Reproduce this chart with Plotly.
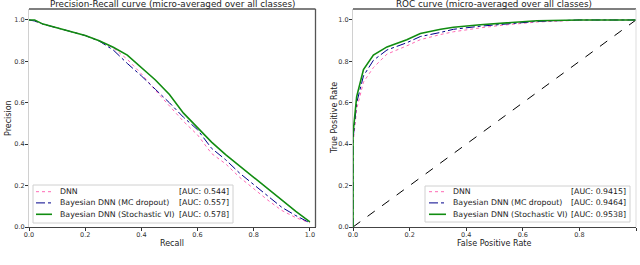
import plotly.graph_objects as go

W, H = 640, 265

# ---------------- data ----------------
series_names = ["DNN", "Bayesian DNN (MC dropout)", "Bayesian DNN (Stochastic VI)"]
pr_auc_labels = ["[AUC: 0.544]", "[AUC: 0.557]", "[AUC: 0.578]"]
roc_auc_labels = ["[AUC: 0.9415]", "[AUC: 0.9464]", "[AUC: 0.9538]"]

pr_recall = [0.0, 0.02, 0.05, 0.1, 0.15, 0.2, 0.25, 0.3, 0.35, 0.4, 0.45, 0.5,
             0.55, 0.6, 0.65, 0.7, 0.75, 0.8, 0.85, 0.9, 0.95, 1.0]
pr_dnn = [1.0, 0.995, 0.98, 0.962, 0.945, 0.925, 0.90, 0.865, 0.81, 0.74, 0.66, 0.585,
          0.51, 0.445, 0.355, 0.305, 0.24, 0.185, 0.13, 0.08, 0.045, 0.02]
pr_mc = [1.0, 0.995, 0.98, 0.962, 0.945, 0.925, 0.898, 0.855, 0.79, 0.73, 0.665, 0.60,
         0.53, 0.47, 0.38, 0.325, 0.26, 0.205, 0.15, 0.095, 0.055, 0.02]
pr_vi = [1.0, 1.0, 0.98, 0.962, 0.945, 0.925, 0.90, 0.868, 0.83, 0.77, 0.71, 0.64,
         0.55, 0.48, 0.41, 0.35, 0.295, 0.237, 0.185, 0.128, 0.075, 0.025]

roc_fpr = [0.0, 0.0, 0.013, 0.037, 0.072, 0.12, 0.19, 0.238, 0.31, 0.355, 0.45,
           0.53, 0.65, 0.8, 1.0]
roc_dnn = [0.0, 0.40, 0.57, 0.70, 0.77, 0.835, 0.875, 0.905, 0.93, 0.943, 0.962,
           0.975, 0.99, 0.999, 1.0]
roc_mc = [0.0, 0.42, 0.60, 0.73, 0.805, 0.855, 0.89, 0.92, 0.94, 0.955, 0.97,
          0.98, 0.993, 1.0, 1.0]
roc_vi = [0.0, 0.45, 0.63, 0.76, 0.83, 0.87, 0.905, 0.935, 0.955, 0.965, 0.977,
          0.985, 0.996, 1.0, 1.0]
chance = [0.0, 1.0]

tick_vals = [0.0, 0.2, 0.4, 0.6, 0.8, 1.0]
tick_text = ["0.0", "0.2", "0.4", "0.6", "0.8", "1.0"]

colors = ["#ff69b4", "#00008b", "#118c11"]
dashes = ["dot", "dashdot", "solid"]
widths = [1.0, 1.0, 1.6]

# ---------------- figure ----------------
fig = go.Figure()

for ys, c, d, w, n in zip([pr_dnn, pr_mc, pr_vi], colors, dashes, widths, series_names):
    fig.add_trace(go.Scatter(x=pr_recall, y=ys, mode="lines", name=n,
                             line=dict(color=c, dash=d, width=w),
                             xaxis="x", yaxis="y", showlegend=False))

fig.add_trace(go.Scatter(x=chance, y=chance, mode="lines",
                         line=dict(color="black", dash="dash", width=1),
                         xaxis="x2", yaxis="y2", showlegend=False))
for ys, c, d, w, n in zip([roc_dnn, roc_mc, roc_vi], colors, dashes, widths, series_names):
    fig.add_trace(go.Scatter(x=roc_fpr, y=ys, mode="lines", name=n,
                             line=dict(color=c, dash=d, width=w),
                             xaxis="x2", yaxis="y2", showlegend=False))

def px(x):
    return x / W

def py(y):
    return 1 - y / H

dom_y = [py(227), py(9)]
ax_common = dict(showgrid=False, zeroline=False, ticks="outside", ticklen=3,
                 tickcolor="#333", tickwidth=1, tickfont=dict(size=6.5, color="#333"),
                 tickvals=tick_vals, ticktext=tick_text, automargin=False)

fig.update_layout(
    width=W, height=H,
    margin=dict(l=0, r=0, t=0, b=0),
    paper_bgcolor="white", plot_bgcolor="white",
    font=dict(family="DejaVu Sans", color="#222"),
    showlegend=False,
    xaxis=dict(domain=[px(29), px(315.5)], range=[0, 1.02], anchor="y",
               ticklabelstandoff=-2,
               showline=True, linecolor="#444", linewidth=1.3, **ax_common),
    yaxis=dict(domain=dom_y, range=[0, 1.053], anchor="x",
               ticklabelstandoff=-1,
               showline=True, linecolor="#d0d0d0", linewidth=1, **ax_common),
    xaxis2=dict(domain=[px(353), px(636)], range=[0, 1.0], anchor="y2",
                ticklabelstandoff=-2,
                showline=True, linecolor="#444", linewidth=1.3, **ax_common),
    yaxis2=dict(domain=dom_y, range=[0, 1.053], anchor="x2",
                ticklabelstandoff=-1,
                showline=True, linecolor="#d0d0d0", linewidth=1, **ax_common),
)

shapes = []
# top / right spines
shapes.append(dict(type="line", xref="paper", yref="paper", x0=px(29), x1=px(315.5),
                   y0=py(9), y1=py(9), line=dict(color="#555", width=1.3)))
shapes.append(dict(type="line", xref="paper", yref="paper", x0=px(315.5), x1=px(315.5),
                   y0=py(9), y1=py(227), line=dict(color="#555", width=1.3)))
shapes.append(dict(type="line", xref="paper", yref="paper", x0=px(353), x1=px(636),
                   y0=py(9), y1=py(9), line=dict(color="#555", width=1.3)))
shapes.append(dict(type="line", xref="paper", yref="paper", x0=px(636), x1=px(636),
                   y0=py(9), y1=py(227), line=dict(color="#dddddd", width=1)))

annotations = []
# titles
annotations.append(dict(text="Precision-Recall curve (micro-averaged over all classes)",
                        x=px(172), y=py(4), xref="paper", yref="paper",
                        showarrow=False, xanchor="center", yanchor="middle",
                        font=dict(size=8.8, color="#222")))
annotations.append(dict(text="ROC curve (micro-averaged over all classes)",
                        x=px(494), y=py(4), xref="paper", yref="paper",
                        showarrow=False, xanchor="center", yanchor="middle",
                        font=dict(size=8.8, color="#222")))
# axis labels
for txt, x in [("Recall", 172), ("False Positive Rate", 494)]:
    annotations.append(dict(text=txt, x=px(x), y=py(243), xref="paper", yref="paper",
                            showarrow=False, xanchor="center", yanchor="middle",
                            font=dict(size=8, color="#222")))
for txt, x in [("Precision", 8), ("True Positive Rate", 334)]:
    annotations.append(dict(text=txt, x=px(x), y=py(118), xref="paper", yref="paper",
                            showarrow=False, xanchor="center", yanchor="middle",
                            textangle=-90, font=dict(size=8, color="#222")))

# manual legends
def legend(box, sample_x, name_x, auc_right, rows, aucs):
    x0, y0, x1, y1 = box
    shapes.append(dict(type="rect", xref="paper", yref="paper",
                       x0=px(x0), x1=px(x1), y0=py(y1), y1=py(y0),
                       line=dict(color="#d0d0d0", width=1), fillcolor="white",
                       layer="above"))
    for i, yr in enumerate(rows):
        shapes.append(dict(type="line", xref="paper", yref="paper",
                           x0=px(sample_x[0]), x1=px(sample_x[1]), y0=py(yr), y1=py(yr),
                           line=dict(color=colors[i], dash=dashes[i], width=widths[i]),
                           layer="above"))
        annotations.append(dict(text=series_names[i], x=px(name_x), y=py(yr),
                                xref="paper", yref="paper", showarrow=False,
                                xanchor="left", yanchor="middle",
                                font=dict(size=7.8, color="#222")))
        annotations.append(dict(text=aucs[i], x=px(auc_right), y=py(yr),
                                xref="paper", yref="paper", showarrow=False,
                                xanchor="right", yanchor="middle",
                                font=dict(size=7.8, color="#222")))

legend((33, 185, 233, 223), (36, 52), 58, 231, [191.7, 202.9, 214.3], pr_auc_labels)
legend((425, 186, 630, 222), (429, 446), 451, 628, [191.7, 202.9, 214.3], roc_auc_labels)

fig.update_layout(shapes=shapes, annotations=annotations)
fig.write_html("out.html", config={"displayModeBar": False},
               post_script="document.body.style.margin='0px';document.body.style.padding='0px';")
